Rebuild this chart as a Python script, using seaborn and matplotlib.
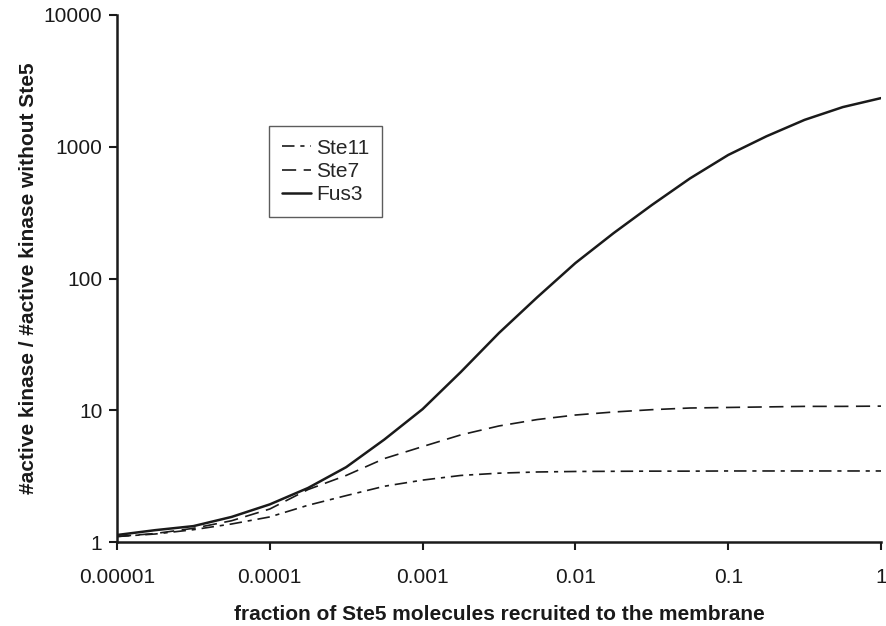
import numpy as np
import pandas as pd
import matplotlib
matplotlib.use("Agg")
import matplotlib.pyplot as plt
import seaborn as sns

fraction = [1e-5, 1.778e-5, 3.162e-5, 5.623e-5, 1e-4, 1.778e-4, 3.162e-4, 5.623e-4,
            1e-3, 1.778e-3, 3.162e-3, 5.623e-3, 1e-2, 1.778e-2, 3.162e-2, 5.623e-2,
            1e-1, 1.778e-1, 3.162e-1, 5.623e-1, 1.0]
ste11 = [1.10, 1.15, 1.24, 1.37, 1.55, 1.90, 2.25, 2.65, 2.95, 3.20, 3.33, 3.40,
         3.43, 3.44, 3.45, 3.45, 3.46, 3.46, 3.46, 3.46, 3.46]
ste7 = [1.10, 1.16, 1.27, 1.45, 1.78, 2.50, 3.20, 4.30, 5.30, 6.50, 7.60, 8.50,
        9.20, 9.70, 10.1, 10.4, 10.5, 10.6, 10.7, 10.7, 10.75]
fus3 = [1.13, 1.23, 1.32, 1.55, 1.93, 2.57, 3.7, 6.0, 10.2, 19.5, 38.6, 72, 131,
        221, 361, 575, 866, 1200, 1600, 2000, 2340]
series_names = ["Ste11", "Ste7", "Fus3"]
x_ticks = [1e-5, 1e-4, 1e-3, 1e-2, 1e-1, 1]
x_tick_labels = ["0.00001", "0.0001", "0.001", "0.01", "0.1", "1"]
y_ticks = [1, 10, 100, 1000, 10000]
y_tick_labels = ["1", "10", "100", "1000", "10000"]

df = pd.concat([
    pd.DataFrame({"x": fraction, "y": vals, "kinase": name})
    for name, vals in zip(series_names, [ste11, ste7, fus3])
], ignore_index=True)

sns.set_style("white")
plt.rcParams["font.family"] = ["Liberation Sans", "DejaVu Sans"]
plt.rcParams["lines.solid_joinstyle"] = "round"
plt.rcParams["lines.dash_joinstyle"] = "round"

fig = plt.figure(figsize=(8.86, 6.26), dpi=100)
ax = fig.add_axes([117/886, 1-542/626, (881-117)/886, (542-15)/626])

sns.lineplot(data=df, x="x", y="y", hue="kinase", style="kinase",
             palette={"Ste11": "#1a1a1a", "Ste7": "#1a1a1a", "Fus3": "#1a1a1a"},
             dashes={"Ste11": (7.5, 3.5, 2.5, 3.5), "Ste7": (8.5, 4.5), "Fus3": ""},
             size="kinase", sizes={"Ste11": 1.2, "Ste7": 1.2, "Fus3": 1.8},
             ax=ax, legend=True)

ax.set_xscale("log")
ax.set_yscale("log")
ax.set_xlim(1e-5, 1)
ax.set_ylim(1, 10000)
ax.set_xticks(x_ticks)
ax.set_xticklabels(x_tick_labels)
ax.set_yticks(y_ticks)
ax.set_yticklabels(y_tick_labels)
ax.minorticks_off()
ax.tick_params(axis="both", direction="out", length=5.5, width=1.5, labelsize=15,
               colors="#1a1a1a", bottom=True, left=True)
ax.tick_params(axis="x", pad=13)
ax.tick_params(axis="y", pad=5)
for side in ["top", "right"]:
    ax.spines[side].set_visible(False)
for side in ["left", "bottom"]:
    ax.spines[side].set_linewidth(1.8)
    ax.spines[side].set_color("#1a1a1a")

ax.set_xlabel("fraction of Ste5 molecules recruited to the membrane",
              fontsize=15, fontweight="bold", labelpad=13, color="#1a1a1a")
ax.set_ylabel("#active kinase / #active kinase without Ste5",
              fontsize=15, fontweight="bold", labelpad=4, color="#1a1a1a")

handles, labels = ax.get_legend_handles_labels()
leg = ax.legend(handles, labels, loc="upper left", bbox_to_anchor=(0.199, 0.789),
                frameon=True, fancybox=False, edgecolor="#333333", fontsize=15,
                handlelength=1.4, handletextpad=0.25, borderpad=0.6,
                labelspacing=0.2, borderaxespad=0)
leg.get_frame().set_linewidth(1.0)

fig.savefig("out.png", dpi=100)
